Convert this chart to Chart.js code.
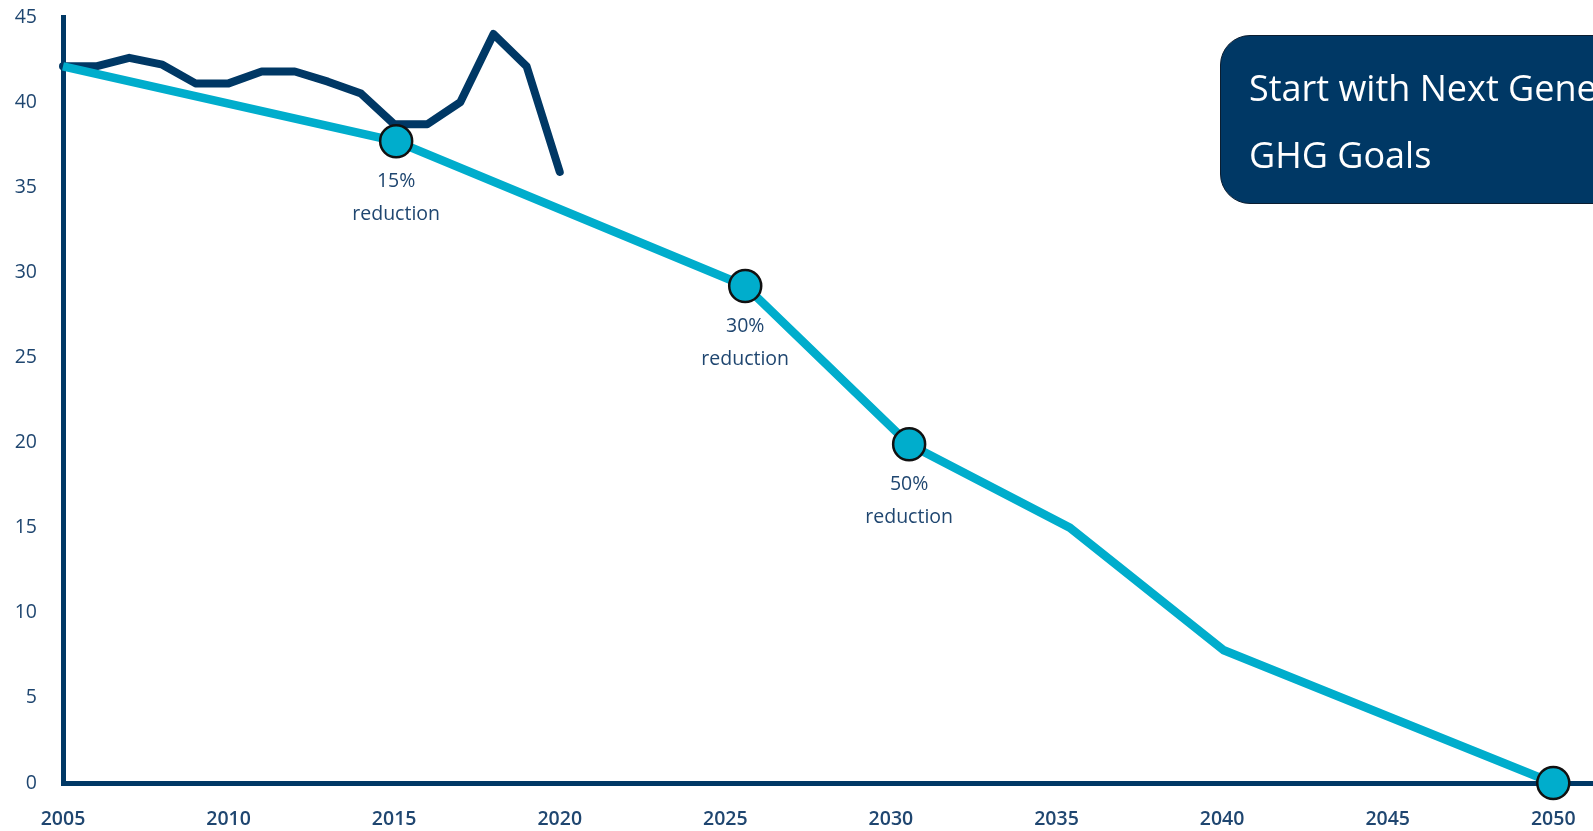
<!DOCTYPE html>
<html>
<head>
<meta charset="utf-8">
<script src="https://cdn.jsdelivr.net/npm/chart.js@4.4.1/dist/chart.umd.min.js"></script>
<style>
  html, body { margin: 0; padding: 0; background: #fff; overflow: hidden; }
  #wrap { position: relative; width: 1593px; height: 831px; }
  #goalBox {
    position: absolute; left: 1220px; top: 35px; width: 460px; height: 169px;
    background: #003865; border: 1.5px solid #0b1d30; border-radius: 30px;
    box-sizing: border-box; color: #fff;
    font-family: "Open Sans", sans-serif; font-size: 36px; line-height: 67px;
    padding: 18px 0 0 28px; white-space: nowrap;
  }
</style>
</head>
<body>
<div id="wrap">
  <canvas id="ghgChart" width="1593" height="831"></canvas>
  <div id="goalBox">Start with Next Generation<br>GHG Goals</div>
</div>
<script>
// actual emissions (dark line)
const actualYears = [2005, 2006, 2007, 2008, 2009, 2010, 2011, 2012, 2013, 2014, 2015, 2016, 2017, 2018, 2019, 2020];
const actualValues = [42.1, 42.1, 42.6, 42.2, 41.1, 41.1, 41.8, 41.8, 41.2, 40.5, 38.7, 38.7, 40.0, 44.0, 42.1, 35.9];

// target pathway (light line)
const targetYears = [2005, 2015.06, 2025.6, 2030.55, 2035.4, 2040.05, 2050];
const targetValues = [42.1, 37.7, 29.2, 19.9, 15.0, 7.8, 0];
const targetMarkers = [false, true, true, true, false, false, true];
const targetLabels = ['', '15%', '30%', '50%', '', '', ''];

const xTicks = [2005, 2010, 2015, 2020, 2025, 2030, 2035, 2040, 2045, 2050];
const yTicks = [0, 5, 10, 15, 20, 25, 30, 35, 40, 45];

const navy = '#003865';
const lightBlue = '#00adcc';
const tickColor = '#1f4670';

const labelPlugin = {
    id: 'reductionLabels',
    afterDatasetsDraw(chart) {
        const ctx = chart.ctx;
        const meta = chart.getDatasetMeta(0);
        ctx.save();
        ctx.fillStyle = tickColor;
        ctx.font = '500 19.5px "Open Sans"';
        ctx.textAlign = 'center';
        ctx.textBaseline = 'middle';
        targetLabels.forEach((txt, i) => {
            if (!txt) return;
            const pt = meta.data[i];
            ctx.fillText(txt, pt.x, pt.y + 40);
            ctx.fillText('reduction', pt.x, pt.y + 73);
        });
        ctx.restore();
    }
};

new Chart(document.getElementById('ghgChart'), {
    type: 'line',
    data: {
        datasets: [
            {
                label: 'Target',
                data: targetYears.map((x, i) => ({ x: x, y: targetValues[i] })),
                borderColor: lightBlue,
                borderWidth: 8.5,
                pointRadius: targetMarkers.map(m => m ? 16 : 0),
                pointBackgroundColor: lightBlue,
                pointBorderColor: '#111',
                pointBorderWidth: 2.5,
                clip: false,
                tension: 0
            },
            {
                label: 'Actual',
                data: actualYears.map((x, i) => ({ x: x, y: actualValues[i] })),
                borderColor: navy,
                borderWidth: 8,
                pointRadius: 0,
                borderJoinStyle: 'round',
                borderCapStyle: 'round',
                clip: false,
                tension: 0
            }
        ]
    },
    options: {
        responsive: false,
        animation: false,
        layout: { autoPadding: false, padding: { top: 17, right: 0, left: 0, bottom: 0 } },
        plugins: {
            legend: { display: false },
            tooltip: { enabled: false }
        },
        scales: {
            x: {
                type: 'linear',
                min: 2005,
                max: 2051.2,
                grid: { display: false, drawTicks: false },
                border: { display: true, color: navy, width: 5 },
                afterBuildTicks: s => { s.ticks = xTicks.map(v => ({ value: v })); },
                afterFit: s => { s.height = 48; s.paddingLeft = 0; s.paddingRight = 0; },
                ticks: {
                    color: tickColor,
                    font: { family: 'Open Sans', size: 19.5, weight: '600' },
                    padding: 25,
                    maxRotation: 0,
                    callback: v => String(v)
                }
            },
            y: {
                min: 0,
                max: 45,
                grid: { display: false, drawTicks: false },
                border: { display: true, color: navy, width: 5 },
                afterBuildTicks: s => { s.ticks = yTicks.map(v => ({ value: v })); },
                afterFit: s => { s.width = 63; s.paddingTop = 0; s.paddingBottom = 0; },
                ticks: {
                    color: tickColor,
                    font: { family: 'Open Sans', size: 19.5, weight: '500' },
                    padding: 26,
                    callback: v => String(v)
                }
            }
        }
    },
    plugins: [labelPlugin]
});
</script>
</body>
</html>
